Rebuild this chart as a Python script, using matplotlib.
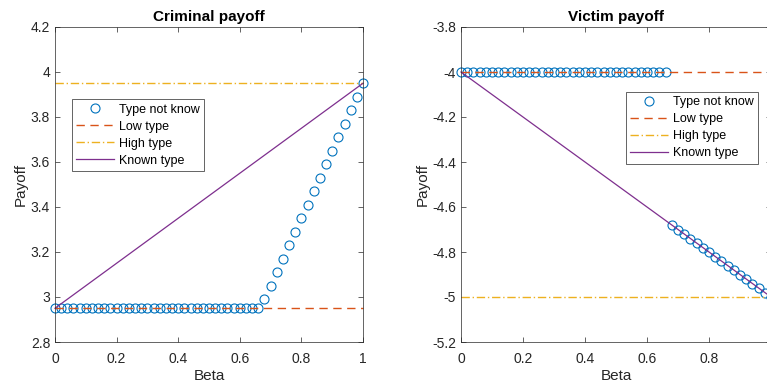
import numpy as np
import matplotlib
matplotlib.use('Agg')
import matplotlib.pyplot as plt
from matplotlib.ticker import FormatStrFormatter

plt.rcParams['font.family'] = ['Liberation Sans', 'DejaVu Sans']
plt.rcParams['axes.unicode_minus'] = False

# beta grid 0:0.02:1
beta = [0.00, 0.02, 0.04, 0.06, 0.08, 0.10, 0.12, 0.14, 0.16, 0.18,
        0.20, 0.22, 0.24, 0.26, 0.28, 0.30, 0.32, 0.34, 0.36, 0.38,
        0.40, 0.42, 0.44, 0.46, 0.48, 0.50, 0.52, 0.54, 0.56, 0.58,
        0.60, 0.62, 0.64, 0.66, 0.68, 0.70, 0.72, 0.74, 0.76, 0.78,
        0.80, 0.82, 0.84, 0.86, 0.88, 0.90, 0.92, 0.94, 0.96, 0.98, 1.00]

# criminal payoff, type not known
crim_unknown = [2.95] * 34 + [2.99, 3.05, 3.11, 3.17, 3.23, 3.29, 3.35, 3.41,
                              3.47, 3.53, 3.59, 3.65, 3.71, 3.77, 3.83, 3.89, 3.95]
crim_low = 2.95
crim_high = 3.95
crim_known_x = [0, 1]
crim_known_y = [2.95, 3.95]

# victim payoff, type not known
vic_unknown = [-4.0] * 34 + [-4.68, -4.70, -4.72, -4.74, -4.76, -4.78, -4.80, -4.82,
                             -4.84, -4.86, -4.88, -4.90, -4.92, -4.94, -4.96, -4.98, -5.00]
vic_low = -4.0
vic_high = -5.0
vic_known_x = [0, 1]
vic_known_y = [-4.0, -5.0]

blue = (0, 0.447, 0.741)
orange = (0.85, 0.325, 0.098)
yellow = (0.929, 0.694, 0.125)
purple = (0.494, 0.184, 0.556)

fig = plt.figure(figsize=(7.67, 3.85), dpi=100)
ax1 = fig.add_axes([55/767, 43/385, 308/767, 315/385])
ax2 = fig.add_axes([461/767, 43/385, 310/767, 315/385])


def draw(ax, unk, low, high, kx, ky, title, ylim, xt, leg_pos):
    ax.plot(beta, unk, 'o', mfc='none', mec=blue, ms=6.5, mew=0.8, label='Type not know')
    ax.plot([0, 1], [low, low], color=orange, ls=(0, (6, 4)), lw=1.0, label='Low type')
    ax.plot([0, 1], [high, high], color=yellow, ls=(0, (6, 2, 1, 2)), lw=1.0, label='High type')
    ax.plot(kx, ky, color=purple, lw=0.9, label='Known type')
    ax.set_xlim(0, 1)
    ax.set_ylim(*ylim)
    ax.set_xticks(xt)
    ax.set_yticks(np.arange(ylim[0], ylim[1] + 0.01, 0.2))
    ax.xaxis.set_major_formatter(FormatStrFormatter('%g'))
    ax.yaxis.set_major_formatter(FormatStrFormatter('%g'))
    ax.tick_params(direction='in', top=True, right=True, labelsize=10,
                   colors='#262626', length=3.5, width=0.5)
    ax.tick_params(axis='x', pad=7)
    for s in ax.spines.values():
        s.set_color('#262626')
        s.set_linewidth(0.5)
    ax.set_title(title, fontsize=11, fontweight='bold', pad=4)
    ax.set_xlabel('Beta', fontsize=11, color='#262626', labelpad=2)
    ax.set_ylabel('Payoff', fontsize=11, color='#262626', labelpad=2)
    leg = ax.legend(loc='upper left', bbox_to_anchor=leg_pos, fontsize=9,
                    handlelength=3.0, fancybox=False, framealpha=1,
                    edgecolor='#262626', borderpad=0.35, labelspacing=0.4,
                    handletextpad=0.4, borderaxespad=0)
    leg.get_frame().set_linewidth(0.5)


draw(ax1, crim_unknown, crim_low, crim_high, crim_known_x, crim_known_y,
     'Criminal payoff', (2.8, 4.2), [0, 0.2, 0.4, 0.6, 0.8, 1], (0.055, 0.771))
draw(ax2, vic_unknown, vic_low, vic_high, vic_known_x, vic_known_y,
     'Victim payoff', (-5.2, -3.8), [0, 0.2, 0.4, 0.6, 0.8], (0.532, 0.794))

for ax in (ax1, ax2):
    for line in ax.lines:
        line.set_clip_on(False)

fig.savefig('out.png', dpi=100)
